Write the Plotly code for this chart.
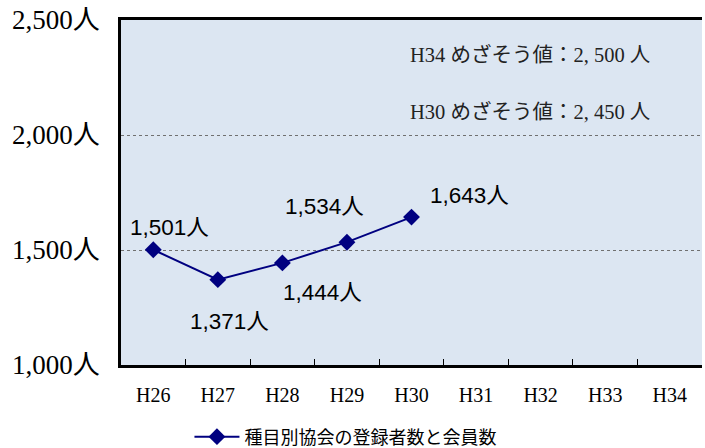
import plotly.graph_objects as go

categories = ["H26", "H27", "H28", "H29", "H30", "H31", "H32", "H33", "H34"]
members = [1501, 1371, 1444, 1534, 1643]
series_name = "種目別協会の登録者数と会員数"
y_ticks = [1000, 1500, 2000, 2500]
y_tick_labels = ["1,000人", "1,500人", "2,000人", "2,500人"]
target_texts = ["H34 めざそう値：2, 500 人", "H30 めざそう値：2, 450 人"]
label_offsets = [(16, 22), (12, -42), (40, -30), (-22, 36), (58, 22)]

navy = "#000080"
sans = "Liberation Sans, Noto Sans CJK JP, sans-serif"
serif = "Liberation Serif, Noto Sans CJK JP, serif"

fig = go.Figure()
fig.add_trace(go.Scatter(
    x=categories[:len(members)], y=members, mode="lines+markers",
    name=series_name,
    line=dict(color=navy, width=2),
    marker=dict(symbol="diamond", size=13, color=navy),
))

for c, v, (dx, dy) in zip(categories, members, label_offsets):
    fig.add_annotation(x=c, y=v, text=f"{v:,}人", showarrow=False,
                       xshift=dx, yshift=dy,
                       font=dict(family=sans, size=22.5, color="#000"))

for i, t in enumerate(target_texts):
    fig.add_annotation(xref="paper", yref="paper", x=0.494, y=[0.899, 0.734][i],
                       xanchor="left", yanchor="middle", text=t, showarrow=False,
                       font=dict(family=serif, size=20.5, color="#222"))

fig.update_layout(
    width=705, height=448,
    margin=dict(l=121, r=3, t=20, b=83, autoexpand=False),
    paper_bgcolor="white", plot_bgcolor="#DCE6F2",
    showlegend=True,
    legend=dict(orientation="h", xref="container", yref="container",
                x=0.49, y=0.066, xanchor="center", yanchor="top",
                font=dict(family=sans, size=18, color="#000"),
                itemwidth=45),
)
fig.update_xaxes(
    type="category", categoryorder="array", categoryarray=categories,
    range=[-0.5, len(categories) - 0.5], automargin=False,
    tickson="boundaries", ticks="inside", ticklen=6, tickcolor="#000",
    showline=True, linecolor="#000", linewidth=2.5, mirror=True,
    showgrid=False, ticklabelstandoff=10,
    tickfont=dict(family=serif, size=20, color="#000"),
)
fig.update_yaxes(
    range=[1000, 2500], tickvals=y_ticks, ticktext=y_tick_labels,
    automargin=False,
    showline=True, linecolor="#000", linewidth=2.5, mirror=False,
    showgrid=True, gridcolor="#707070", griddash="dot", gridwidth=1,
    ticks="", ticklabelstandoff=13, zeroline=False,
    tickfont=dict(family=serif, size=27, color="#000"),
)

fig.write_html("out.html", config={"displayModeBar": False},
               post_script="document.body.style.margin='0';document.body.style.overflow='hidden';")
